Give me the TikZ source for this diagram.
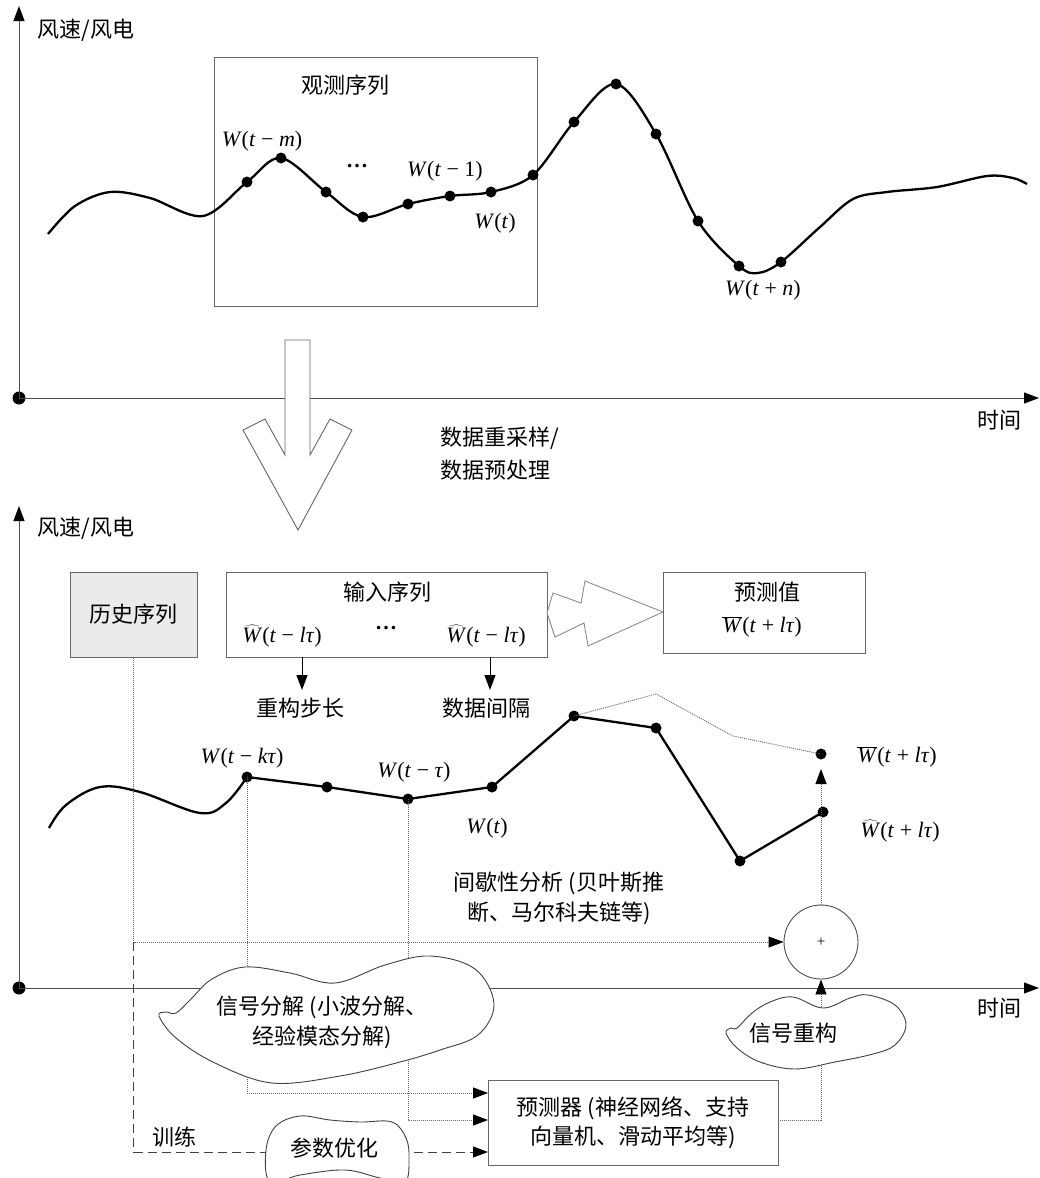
\documentclass[tikz,border=0pt]{standalone}
\usepackage{fontspec}
\setmainfont{Liberation Serif}
\newfontfamily\cjk{Noto Sans CJK SC}
\usetikzlibrary{arrows.meta}
\newcommand\hatW{\ensuremath{\widehat{\mbox{\textit{W}}}}}
\newcommand\barW{\ensuremath{\overline{\mbox{\textit{W}}}}}
\begin{document}
\begin{tikzpicture}[x=1pt,y=-1pt,
  cjkt/.style={font=\cjk\fontsize{22}{26}\selectfont, inner sep=0pt},
  lat/.style={font=\fontsize{22}{26}\selectfont, inner sep=0pt},
  axisline/.style={draw=black!70, line width=1pt, -{Triangle[length=15pt,width=11pt,color=black,fill=black]}},
  curve/.style={line width=2.3pt, line join=round},
  dotm/.style={circle, fill=black, inner sep=0pt, minimum size=11pt},
  bigdot/.style={circle, fill=black, inner sep=0pt, minimum size=13pt},
  frame/.style={draw=black!60, line width=1pt, inner sep=0pt},
  dotline/.style={draw=black!60, line width=0.9pt, dash pattern=on 1pt off 1pt},
  dashline/.style={draw=black!75, line width=1pt, dash pattern=on 9pt off 5pt},
  tipb/.style={-{Triangle[length=15pt,width=11pt,color=black,fill=black]}},
  cloudsh/.style={draw=black!75, line width=0.9pt, fill=white},
  hollow/.style={draw=black!60, line width=0.9pt, fill=white, line join=miter}
]
\useasboundingbox (0,0) rectangle (1039,1178);

% ---------------- top panel ----------------
\node[bigdot] (o1) at (19,398) {};
\coordinate (y1) at (19,6);
\coordinate (x1) at (1039,398);
\draw[axisline] (o1.center) -- (y1);
\draw[axisline] (o1.center) -- (x1);
\node[cjkt] (ylab1) at (86,30) {风速/风电};
\node[cjkt] (tlab1) at (999,420) {时间};

\node[frame, anchor=north west, minimum width=323pt, minimum height=249pt] (obs) at (214,57) {};
\node[cjkt] (obst) at (345,85) {观测序列};

\draw[curve] plot[smooth, tension=0.55] coordinates {(48,234) (75,206) (110,192) (150,198) (203,216) (247,182) (281,158) (326,192) (363,217) (408,204) (450,196) (491,192) (533,175) (574,122) (616,84) (656,134) (698,221) (739,266) (758,273) (781,262) (820,227) (853,199) (887,192) (937,187) (987,176) (1013,178) (1027,184)};
\foreach \x/\y [count=\i] in {247/182, 281/158, 326/192, 363/217, 408/204, 450/196, 491/192, 533/175, 574/122, 616/84, 656/134, 698/221, 739/266, 781/262}
  \node[dotm] (t\i) at (\x,\y) {};

\node[lat] (wm) at (262,141) {\textit{W}(\textit{t} − \textit{m})};
\node[lat, anchor=base] (tdots) at (357,167) {\textbf{…}};
\node[lat] (w1) at (445,171) {\textit{W}(\textit{t} − 1)};
\node[lat] (wt1) at (495,223) {\textit{W}(\textit{t})};
\node[lat] (wn) at (763,290) {\textit{W}(\textit{t} + \textit{n})};

% big hollow arrow
\draw[hollow] (285,340) -- (310,340) -- (310,455) -- (330,419) -- (352,430) -- (298,530) -- (243,430) -- (265,419) -- (285,455) -- cycle;
\node[cjkt, anchor=west] (rs1) at (440,438) {数据重采样/};
\node[cjkt, anchor=west] (rs2) at (440,470) {数据预处理};

% ---------------- bottom panel ----------------
\node[bigdot] (o2) at (19,988) {};
\coordinate (y2) at (19,506);
\coordinate (x2) at (1039,988);
\draw[axisline] (o2.center) -- (y2);
\draw[axisline] (o2.center) -- (x2);
\node[cjkt] (ylab2) at (86,528) {风速/风电};
\node[cjkt] (tlab2) at (999,1008) {时间};

\node[frame, cjkt, fill=black!8, minimum width=127pt, minimum height=85pt] (hist) at (133.5,614.5) {历史序列};

\node[frame, minimum width=321pt, minimum height=85pt] (inp) at (386.5,614.5) {};
\node[cjkt] (inpt) at (387,592) {输入序列};
\node[lat] (in1) at (282,636) {\hatW(\textit{t} − \textit{lτ})};
\node[lat] (in2) at (486,636) {\hatW(\textit{t} − \textit{lτ})};
\node[lat, anchor=base] (indots) at (386,629) {\textbf{…}};

\coordinate (s1a) at (302,657);
\coordinate (s1b) at (302,690);
\coordinate (s2a) at (490,657);
\coordinate (s2b) at (490,690);
\draw[draw=black, line width=1pt, tipb] (s1a) -- (s1b);
\draw[draw=black, line width=1pt, tipb] (s2a) -- (s2b);
\node[cjkt] (step1) at (300,708) {重构步长};
\node[cjkt] (gap1) at (486,708) {数据间隔};

% zigzag hollow arrow
\draw[draw=black!50, line width=0.8pt, fill=white] (547,613) -- (553,593) -- (581,603) -- (585,581) -- (663,612) -- (588,646) -- (584,623) -- (555,637) -- cycle;

\node[frame, minimum width=202pt, minimum height=81pt] (predv) at (764,612.5) {};
\node[cjkt] (predvt) at (767,592) {预测值};
\node[lat] (predvw) at (762,627) {\barW(\textit{t} + \textit{lτ})};

% bottom curve
\foreach \n/\x/\y in {b1/247/777, b2/327/787, b3/408/799, b4/492/787, b5/574/716, b6/656/728, b7/740/861, b8/823/812, bw/821/754}
  \node[dotm] (\n) at (\x,\y) {};
\draw[curve] plot[smooth, tension=0.6] coordinates {(49,828) (66,805) (100,787) (140,792) (200,813) (226,803) (247,777)};
\draw[curve] (b1.center) -- (b2.center) -- (b3.center) -- (b4.center) -- (b5.center) -- (b6.center) -- (b7.center) -- (b8.center);
\draw[dotline] (b5.center) -- (656,694) -- (733,736) -- (bw.center);

\node[lat] (wk) at (242,758) {\textit{W}(\textit{t} − \textit{kτ})};
\node[lat] (wtau) at (414,772) {\textit{W}(\textit{t} − \textit{τ})};
\node[lat] (wt2) at (487,828) {\textit{W}(\textit{t})};
\node[lat] (wbar) at (897,757) {\barW(\textit{t} + \textit{lτ})};
\node[lat] (what) at (900,831) {\hatW(\textit{t} + \textit{lτ})};

\node[cjkt, align=center, font=\cjk\fontsize{22}{30}\selectfont] (interm) at (559,898) {间歇性分析 (贝叶斯推\\断、马尔科夫链等)};

\node[circle, draw=black!70, line width=0.9pt, fill=white, minimum size=74pt, inner sep=0pt, font=\fontsize{15}{15}\selectfont] (sum) at (821,942) {+};

\node[frame, align=center, minimum width=290pt, minimum height=85pt, font=\cjk\fontsize{22}{29}\selectfont] (pred) at (633,1122.5) {预测器 (神经网络、支持\\向量机、滑动平均等)};

\coordinate (jn) at (hist.south |- sum.west);
\coordinate (pin1) at (488,1093);
\coordinate (pin2) at (488,1120);
\coordinate (pin3) at (488,1152);
\coordinate (pout) at (778,1120);
\coordinate (tipW) at (821,769);

\draw[dotline, tipb] (hist.south) |- (sum.west);
\draw[dashline, tipb] (jn) |- (pin3);
\draw[dotline, tipb] (b1.center) |- (pin1);
\draw[dotline, tipb] (b3.center) |- (pin2);
\draw[dotline, tipb] (pout) -| (sum.south);
\draw[dotline, tipb] (sum.north) -- (tipW);

% clouds
\draw[cloudsh] plot[smooth cycle, tension=0.6] coordinates {(176,1013) (192,998) (212,979) (245,967) (290,973) (335,983) (385,965) (430,956) (475,969) (494,1004) (478,1035) (440,1050) (400,1062) (340,1076) (272,1083) (215,1063) (176,1038) (159,1016) (166,1012)};
\node[cjkt, align=center, font=\cjk\fontsize{22}{30}\selectfont] (decomp) at (322,1022) {信号分解 (小波分解、\\经验模态分解)};

\draw[cloudsh] plot[smooth cycle, tension=0.6] coordinates {(737,1028) (752,1013) (770,1002) (793,997) (823,1008) (850,998) (868,995) (895,1005) (906,1025) (895,1045) (873,1054) (835,1062) (795,1069) (760,1062) (737,1048) (726,1033) (731,1028)};
\node[cjkt] (recon) at (793,1033) {信号重构};

\draw[cloudsh] plot[smooth cycle, tension=0.6] coordinates {(266,1150) (276,1126) (300,1116) (330,1120) (360,1122) (392,1122) (406,1138) (409,1158) (405,1182) (380,1178) (345,1170) (300,1175) (270,1182)};
\node[cjkt] (popt) at (334,1148) {参数优化};

\node[cjkt] (train) at (174,1137) {训练};
\end{tikzpicture}
\end{document}
